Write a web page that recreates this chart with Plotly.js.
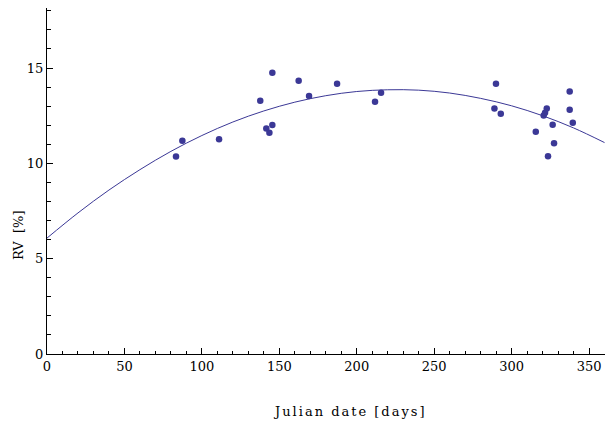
<!DOCTYPE html>
<html>
<head>
<meta charset="utf-8">
<script src="https://cdn.plot.ly/plotly-3.0.1.min.js"></script>
<style>html,body{margin:0;padding:0;background:#fff;}#chart{width:605px;height:425px;}</style>
</head>
<body>
<div id="chart"></div>
<script>
// Observed points: Julian date (days) and RV (%)
const dayObs = [83.3, 87.4, 111.1, 137.7, 141.6, 143.6, 145.5, 145.5, 162.5, 169.2, 187.3, 211.8, 215.7,
                288.9, 289.9, 293.0, 315.6, 320.7, 321.6, 322.7, 323.5, 326.5, 327.4, 337.5, 337.5, 339.5];
const rvObs  = [10.36, 11.19, 11.27, 13.28, 11.83, 11.60, 12.01, 14.75, 14.33, 13.53, 14.17, 13.23, 13.70,
                12.88, 14.17, 12.60, 11.66, 12.51, 12.65, 12.88, 10.37, 12.02, 11.05, 13.77, 12.81, 12.13];

// Fitted curve
const dayFit = [0, 20, 40, 60, 80, 100, 120, 140, 160, 180, 200, 220, 240, 260, 280, 300, 320, 340, 360];
const rvFit  = [6.08, 7.40, 8.60, 9.67, 10.63, 11.46, 12.17, 12.75, 13.21, 13.55, 13.77, 13.86, 13.84,
                13.69, 13.41, 13.02, 12.50, 11.86, 11.09];

const xTickVals = [0, 50, 100, 150, 200, 250, 300, 350];
const yTickVals = [0, 5, 10, 15];
const xTitle = 'Julian date [days]';
const yTitle = 'RV\u00a0\u00a0[%]';

const col = '#3b3896';
const font = 'DejaVu Serif';

const traces = [
  {x: dayFit, y: rvFit, type: 'scatter', mode: 'lines', line: {color: col, width: 1, shape: 'spline'}, hoverinfo: 'skip'},
  {x: dayObs, y: rvObs, type: 'scatter', mode: 'markers', marker: {color: col, size: 6.5}}
];

const layout = {
  width: 605, height: 425,
  margin: {l: 47, r: 0, t: 8, b: 71},
  paper_bgcolor: '#fff', plot_bgcolor: '#fff',
  showlegend: false,
  font: {family: font, size: 13, color: '#000'},
  xaxis: {
    range: [0, 360.3], showgrid: false, zeroline: false,
    showline: true, linecolor: '#000', linewidth: 1,
    ticks: 'inside', ticklen: 6, tickcolor: '#000', tickwidth: 1,
    tickvals: xTickVals, ticktext: xTickVals.map(String),
    minor: {dtick: 10, tick0: 0, ticks: 'inside', ticklen: 3.5, tickcolor: '#000', tickwidth: 1, showgrid: false},
    tickfont: {family: font, size: 13}
  },
  yaxis: {
    range: [0, 18.15], showgrid: false, zeroline: false,
    showline: true, linecolor: '#000', linewidth: 1,
    ticks: 'inside', ticklen: 6, tickcolor: '#000', tickwidth: 1,
    tickvals: yTickVals, ticktext: yTickVals.map(String),
    minor: {dtick: 1, tick0: 0, ticks: 'inside', ticklen: 3.5, tickcolor: '#000', tickwidth: 1, showgrid: false},
    tickfont: {family: font, size: 13}
  },
  annotations: [
    {text: '<span style="letter-spacing:2px">' + xTitle + '</span>', xref: 'paper', yref: 'paper',
     x: 0.543, y: -0.165, xanchor: 'center', yanchor: 'middle', showarrow: false,
     font: {family: font, size: 13, color: '#000'}},
    {text: yTitle, xref: 'paper', yref: 'paper', textangle: -90,
     x: -0.0502, y: 0.344, xanchor: 'center', yanchor: 'middle', showarrow: false,
     font: {family: font, size: 13, color: '#000'}}
  ]
};

Plotly.newPlot('chart', traces, layout, {staticPlot: true, displayModeBar: false});
</script>
</body>
</html>
